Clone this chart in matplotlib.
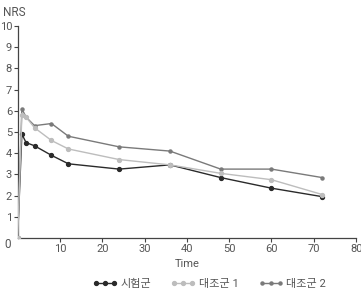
import matplotlib
matplotlib.use("Agg")
import matplotlib.pyplot as plt

# data
time = [0, 1, 2, 4, 8, 12, 24, 36, 48, 60, 72]
trial = [0, 4.9, 4.5, 4.35, 3.9, 3.5, 3.25, 3.45, 2.85, 2.35, 1.95]
control1 = [0, 5.8, 5.7, 5.2, 4.6, 4.2, 3.7, 3.45, 3.05, 2.75, 2.05]
control2 = [0, 6.1, 5.7, 5.3, 5.4, 4.8, 4.3, 4.1, 3.25, 3.25, 2.85]
labels = ["시험군", "대조군 1", "대조군 2"]
xticks = [10, 20, 30, 40, 50, 60, 70, 80]
yticks = [1, 2, 3, 4, 5, 6, 7, 8, 9, 10]

plt.rcParams["font.family"] = ["Roboto", "Noto Sans CJK KR"]
TXT = "#555555"

fig = plt.figure(figsize=(3.61, 2.90), dpi=100)
ax = fig.add_axes([0.0488, 0.1793, 0.9377, 0.731])

ax.plot(time, trial, color="#2a2a2a", lw=1.0, marker="o", ms=2.8, label=labels[0], zorder=2)
ax.plot(time, control2, color="#7a7a7a", lw=1.0, marker="o", ms=2.2, label=labels[2], zorder=3)
ax.plot(time, control1, color="#bdbdbd", lw=1.0, marker="o", ms=2.8, label=labels[1], zorder=4)

ax.set_xlim(0, 80)
ax.set_ylim(0, 10)
ax.set_xticks(xticks)
ax.set_yticks(yticks)
for s in ["top", "right"]:
    ax.spines[s].set_visible(False)
for s in ["left", "bottom"]:
    ax.spines[s].set_color("#444444")
    ax.spines[s].set_linewidth(0.9)
ax.tick_params(colors="#444444", labelcolor=TXT, labelsize=8, length=3, width=0.8, pad=1)
ax.set_xlabel("Time", color=TXT, fontsize=8, labelpad=4)

fig.text(3 / 361, 1 - 12 / 290, "NRS", color=TXT, fontsize=8.5, va="center", ha="left")
fig.text(8 / 361, 1 - 245 / 290, "0", color=TXT, fontsize=8.5, va="center", ha="center")

h, l = ax.get_legend_handles_labels()
order = [0, 2, 1]
fig.legend([h[i] for i in order], [l[i] for i in order], loc="center",
           bbox_to_anchor=(0.58, 1 - 284 / 290), ncol=3, frameon=False,
           numpoints=3, handlelength=2.2, handletextpad=0.3, columnspacing=1.8,
           fontsize=8, labelcolor=TXT, borderaxespad=0)

fig.savefig("out.png", dpi=100)
